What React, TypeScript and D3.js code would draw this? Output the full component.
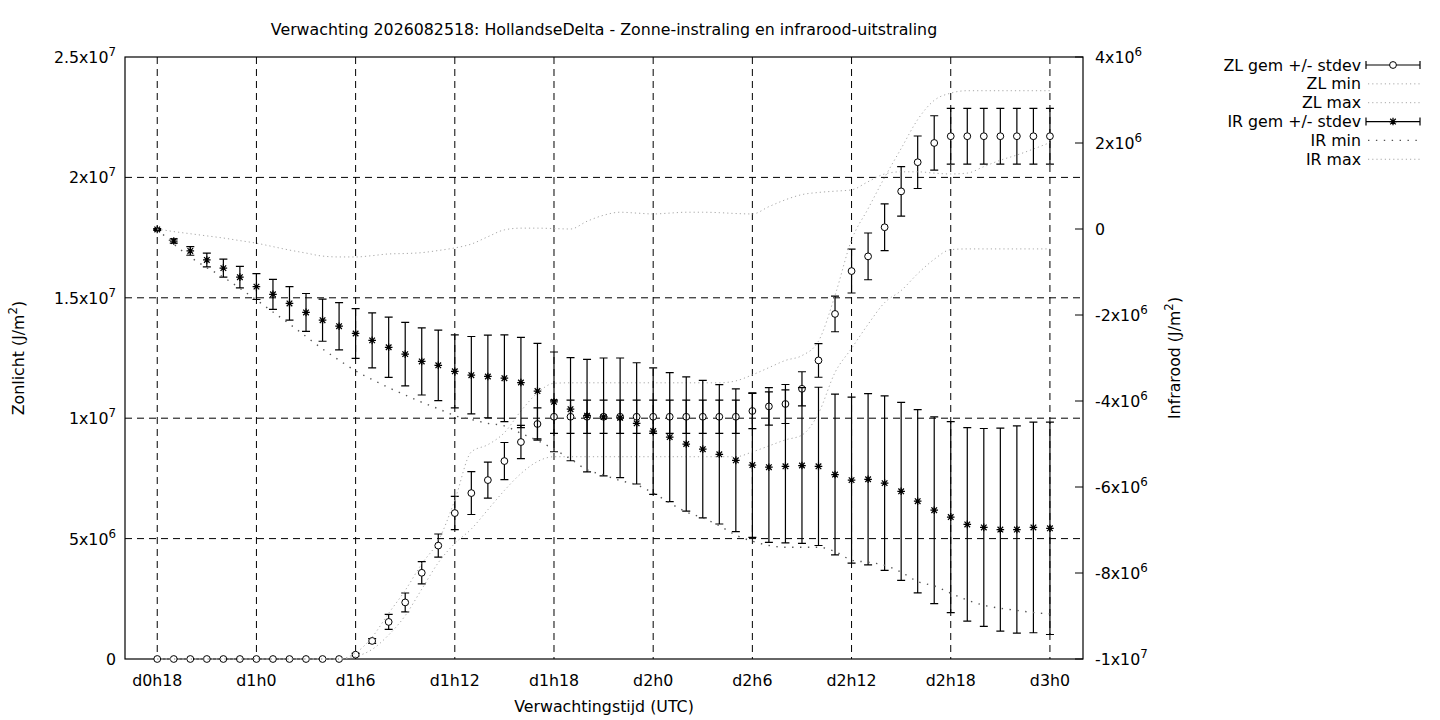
import { useEffect, useRef } from 'react'
import * as d3 from 'd3'

const TITLE = 'Verwachting 2026082518: HollandseDelta - Zonne-instraling en infrarood-uitstraling'

// forecast hour (counted from d0h0), one sample per hour
const HOURS = d3.range(18, 73)

const X_TICKS  = [18, 24, 30, 36, 42, 48, 54, 60, 66, 72]
const X_LABELS = ['d0h18', 'd1h0', 'd1h6', 'd1h12', 'd1h18', 'd2h0', 'd2h6', 'd2h12', 'd2h18', 'd3h0']

// left axis, units of 1e6 J/m2
const Y_TICKS  = [0, 5, 10, 15, 20, 25]
const Y_LABELS: [string, string][] = [['0', ''], ['5x10', '6'], ['1x10', '7'], ['1.5x10', '7'], ['2x10', '7'], ['2.5x10', '7']]
// right axis, units of 1e6 J/m2
const Y2_TICKS  = [-10, -8, -6, -4, -2, 0, 2, 4]
const Y2_LABELS: [string, string][] = [['-1x10', '7'], ['-8x10', '6'], ['-6x10', '6'], ['-4x10', '6'], ['-2x10', '6'], ['0', ''], ['2x10', '6'], ['4x10', '6']]

// Zonlicht (sunlight), 1e6 J/m2
const ZL_MEAN = [
  0, 0, 0, 0, 0, 0, 0, 0, 0, 0, 0, 0,
  0.18, 0.75, 1.54, 2.35, 3.58, 4.71, 6.06, 6.89, 7.43, 8.22, 9.01, 9.76,
  10.06, 10.06, 10.06, 10.06, 10.06, 10.06, 10.06, 10.06, 10.06, 10.06, 10.06, 10.06,
  10.30, 10.49, 10.59, 11.22, 12.40, 14.33, 16.11, 16.72, 17.93, 19.42, 20.63, 21.43,
  21.71, 21.71, 21.71, 21.71, 21.71, 21.71, 21.71,
]
const ZL_SD = [
  0, 0, 0, 0, 0, 0, 0, 0, 0, 0, 0, 0,
  0.05, 0.1, 0.31, 0.39, 0.46, 0.48, 0.69, 0.89, 0.75, 0.77, 0.69, 0.67,
  0.69, 0.69, 0.69, 0.69, 0.69, 0.69, 0.69, 0.69, 0.69, 0.69, 0.69, 0.69,
  0.73, 0.78, 0.81, 0.71, 0.70, 0.74, 0.91, 0.97, 0.97, 1.03, 1.09, 1.13,
  1.16, 1.16, 1.16, 1.16, 1.16, 1.16, 1.16,
]
const ZL_MIN = [
  0, 0, 0, 0, 0, 0, 0, 0, 0, 0, 0, 0,
  0.1, 0.4, 1.0, 1.8, 2.9, 4.0, 4.8, 5.4, 6.2, 7.0, 7.7, 8.2,
  8.4, 8.4, 8.4, 8.4, 8.4, 8.4, 8.4, 8.4, 8.4, 8.4, 8.4, 8.4,
  8.6, 8.85, 9.1, 9.3, 10.2, 11.9, 12.9, 13.9, 14.8, 15.3, 16.0, 16.6,
  17.0, 17.03, 17.03, 17.03, 17.03, 17.03, 17.03,
]
const ZL_MAX = [
  0, 0, 0, 0, 0, 0, 0, 0, 0, 0, 0, 0,
  0.25, 0.91, 1.9, 2.85, 3.95, 4.9, 6.6, 8.6, 8.9, 9.4, 10.3, 11.05,
  11.45, 11.47, 11.47, 11.47, 11.47, 11.47, 11.47, 11.47, 11.47, 11.47, 11.47, 11.55,
  11.8, 12.1, 12.4, 12.6, 13.2, 15.1, 17.4, 18.7, 20.0, 21.2, 22.4, 23.2,
  23.5, 23.6, 23.6, 23.6, 23.6, 23.6, 23.6,
]

// Infrarood (infrared), 1e6 J/m2
const IR_MEAN = [
  -0.01, -0.28, -0.51, -0.72, -0.91, -1.12, -1.34, -1.52, -1.73, -1.94, -2.12, -2.26,
  -2.43, -2.59, -2.75, -2.91, -3.08, -3.17, -3.31, -3.40, -3.43, -3.47, -3.57, -3.77,
  -4.02, -4.19, -4.34, -4.37, -4.39, -4.52, -4.70, -4.84, -5.00, -5.12, -5.24, -5.38,
  -5.49, -5.54, -5.52, -5.50, -5.52, -5.71, -5.84, -5.82, -5.91, -6.10, -6.33, -6.54,
  -6.70, -6.87, -6.94, -6.99, -6.99, -6.94, -6.96,
]
const IR_SD = [
  0.02, 0.05, 0.10, 0.16, 0.21, 0.25, 0.30, 0.35, 0.39, 0.44, 0.49, 0.55,
  0.58, 0.64, 0.70, 0.74, 0.78, 0.82, 0.85, 0.90, 0.96, 1.01, 1.05, 1.11,
  1.16, 1.20, 1.31, 1.37, 1.39, 1.41, 1.47, 1.50, 1.56, 1.60, 1.62, 1.66,
  1.68, 1.75, 1.78, 1.81, 1.84, 1.87, 1.93, 1.99, 2.03, 2.07, 2.13, 2.17,
  2.22, 2.25, 2.30, 2.36, 2.41, 2.45, 2.47,
]
const IR_MIN = [
  0, -0.35, -0.65, -0.9, -1.12, -1.38, -1.65, -1.93, -2.21, -2.5, -2.79, -3.05,
  -3.3, -3.5, -3.69, -3.86, -4.03, -4.18, -4.34, -4.43, -4.52, -4.58, -4.75, -4.92,
  -5.12, -5.35, -5.6, -5.72, -5.85, -5.95, -6.14, -6.37, -6.58, -6.72, -6.9, -7.12,
  -7.26, -7.36, -7.4, -7.4, -7.4, -7.5, -7.7, -7.75, -7.82, -7.98, -8.2, -8.3,
  -8.47, -8.63, -8.75, -8.82, -8.87, -8.92, -8.95,
]
const IR_MAX = [
  0, -0.06, -0.11, -0.16, -0.21, -0.27, -0.33, -0.41, -0.49, -0.56, -0.63, -0.65,
  -0.65, -0.62, -0.58, -0.57, -0.55, -0.5, -0.44, -0.35, -0.18, -0.02, 0.02, 0.02,
  0.01, 0.0, 0.18, 0.32, 0.39, 0.37, 0.35, 0.37, 0.39, 0.39, 0.38, 0.36,
  0.35, 0.52, 0.68, 0.8, 0.85, 0.88, 0.91, 1.1, 1.28, 1.33, 1.33, 1.3,
  1.28, 1.3, 1.45, 1.6, 1.72, 1.86, 2.01,
]

const LEGEND = ['ZL gem +/- stdev', 'ZL min', 'ZL max', 'IR gem +/- stdev', 'IR min', 'IR max']

const FONT = "'DejaVu Sans', sans-serif"
const FS = 15.8
const LIGHT_DOT = '#a8a8a8'
const DARK_DOT = '#555555'

type G = d3.Selection<SVGGElement, unknown, null, undefined>

function drawStar(g: G, cx: number, cy: number) {
  const s = 3.8, d = 2.8
  const p = `M${cx - s},${cy}H${cx + s}M${cx},${cy - s}V${cy + s}` +
    `M${cx - d},${cy - d}L${cx + d},${cy + d}M${cx - d},${cy + d}L${cx + d},${cy - d}`
  g.append('path').attr('d', p).attr('stroke', '#000').attr('stroke-width', 1.25).attr('fill', 'none')
}

function drawCircle(g: G, cx: number, cy: number) {
  g.append('circle').attr('cx', cx).attr('cy', cy).attr('r', 3.4)
    .attr('fill', '#fff').attr('stroke', '#000').attr('stroke-width', 1)
}

function errBar(g: G, x: number, y1: number, y2: number) {
  if (Math.abs(y2 - y1) < 0.5) return
  const c = 4
  g.append('path')
    .attr('d', `M${x},${y1}V${y2}M${x - c},${y1}H${x + c}M${x - c},${y2}H${x + c}`)
    .attr('stroke', '#000').attr('stroke-width', 1.2).attr('fill', 'none')
}

function supText(g: G, x: number, y: number, base: string, sup: string, anchor: string) {
  const t = g.append('text')
    .attr('x', x).attr('y', y)
    .attr('text-anchor', anchor)
    .attr('font-family', FONT).attr('font-size', FS).attr('fill', '#000')
  t.append('tspan').text(base)
  if (sup) t.append('tspan').attr('dy', -7).attr('font-size', FS * 0.75).text(sup)
  return t
}

export default function App() {
  const svgRef = useRef<SVGSVGElement>(null)

  useEffect(() => {
    const svgEl = svgRef.current
    if (!svgEl) return
    d3.select(svgEl).selectAll('*').remove()
    const svg = d3.select(svgEl).append('g') as unknown as G

    const L = 125, R = 1083, T = 57, B = 659

    const x  = d3.scaleLinear().domain([16.05, 74]).range([L, R])
    const y  = d3.scaleLinear().domain([0, 25]).range([B, T])
    const y2 = d3.scaleLinear().domain([-10, 4]).range([B, T])

    svg.append('rect').attr('x', 0).attr('y', 0).attr('width', 1440).attr('height', 720).attr('fill', '#fff')

    // grid
    X_TICKS.forEach(t => {
      svg.append('line')
        .attr('x1', x(t)).attr('x2', x(t)).attr('y1', T).attr('y2', B)
        .attr('stroke', '#000').attr('stroke-width', 1).attr('stroke-dasharray', '7 5')
    })
    Y_TICKS.slice(1, -1).forEach(t => {
      svg.append('line')
        .attr('x1', L).attr('x2', R).attr('y1', y(t)).attr('y2', y(t))
        .attr('stroke', '#000').attr('stroke-width', 1).attr('stroke-dasharray', '7 5')
    })

    // inward y2 ticks
    Y2_TICKS.forEach(t => {
      svg.append('line')
        .attr('x1', R - 8).attr('x2', R).attr('y1', y2(t)).attr('y2', y2(t))
        .attr('stroke', '#000').attr('stroke-width', 1)
    })

    // frame
    svg.append('rect')
      .attr('x', L).attr('y', T).attr('width', R - L).attr('height', B - T)
      .attr('fill', 'none').attr('stroke', '#000').attr('stroke-width', 1.2)

    // tick labels
    X_TICKS.forEach((t, i) => {
      svg.append('text')
        .attr('x', x(t)).attr('y', B + 27)
        .attr('text-anchor', 'middle')
        .attr('font-family', FONT).attr('font-size', FS)
        .text(X_LABELS[i])
    })
    Y_TICKS.forEach((t, i) => {
      supText(svg, 116, y(t) + 6, Y_LABELS[i][0], Y_LABELS[i][1], 'end')
    })
    Y2_TICKS.forEach((t, i) => {
      supText(svg, 1095, y2(t) + 6, Y2_LABELS[i][0], Y2_LABELS[i][1], 'start')
    })

    // titles
    svg.append('text')
      .attr('x', (L + R) / 2).attr('y', 35)
      .attr('text-anchor', 'middle')
      .attr('font-family', FONT).attr('font-size', FS)
      .text(TITLE)
    svg.append('text')
      .attr('x', (L + R) / 2).attr('y', 712)
      .attr('text-anchor', 'middle')
      .attr('font-family', FONT).attr('font-size', FS)
      .text('Verwachtingstijd (UTC)')

    const yLab = supText(svg, 0, 0, 'Zonlicht (J/m', '2', 'middle')
    yLab.append('tspan').attr('dy', 7).text(')')
    yLab.attr('transform', `translate(24,${(T + B) / 2}) rotate(-90)`)
    const y2Lab = supText(svg, 0, 0, 'Infrarood (J/m', '2', 'middle')
    y2Lab.append('tspan').attr('dy', 7).text(')')
    y2Lab.attr('transform', `translate(1180,${(T + B) / 2}) rotate(-90)`)

    const line = (sc: d3.ScaleLinear<number, number>) =>
      d3.line<number>().x((_, i) => x(HOURS[i])).y(v => sc(v)).curve(d3.curveMonotoneX)

    const zl = svg.append('g')
    HOURS.forEach((h, i) => errBar(zl, x(h), y(ZL_MEAN[i] - ZL_SD[i]), y(ZL_MEAN[i] + ZL_SD[i])))
    HOURS.forEach((h, i) => drawCircle(zl, x(h), y(ZL_MEAN[i])))

    svg.append('path').datum(ZL_MIN).attr('d', line(y))
      .attr('fill', 'none').attr('stroke', LIGHT_DOT).attr('stroke-width', 1).attr('stroke-dasharray', '1.2 3')
    svg.append('path').datum(ZL_MAX).attr('d', line(y))
      .attr('fill', 'none').attr('stroke', LIGHT_DOT).attr('stroke-width', 1).attr('stroke-dasharray', '1.2 3')

    const ir = svg.append('g')
    HOURS.forEach((h, i) => errBar(ir, x(h), y2(IR_MEAN[i] - IR_SD[i]), y2(IR_MEAN[i] + IR_SD[i])))
    HOURS.forEach((h, i) => drawStar(ir, x(h), y2(IR_MEAN[i])))

    svg.append('path').datum(IR_MIN).attr('d', line(y2))
      .attr('fill', 'none').attr('stroke', DARK_DOT).attr('stroke-width', 1.4).attr('stroke-dasharray', '1.4 6.5')
    svg.append('path').datum(IR_MAX).attr('d', line(y2))
      .attr('fill', 'none').attr('stroke', LIGHT_DOT).attr('stroke-width', 1).attr('stroke-dasharray', '1.2 3')

    // legend
    const lx0 = 1366, lx1 = 1420
    const lg = svg.append('g')
    LEGEND.forEach((label, i) => {
      const ly = 65 + i * 18.85
      lg.append('text')
        .attr('x', 1361).attr('y', ly + 5.5)
        .attr('text-anchor', 'end')
        .attr('font-family', FONT).attr('font-size', FS)
        .text(label)
      if (i === 0 || i === 3) {
        lg.append('path')
          .attr('d', `M${lx0},${ly}H${lx1}M${lx0},${ly - 4}V${ly + 4}M${lx1},${ly - 4}V${ly + 4}`)
          .attr('stroke', '#000').attr('stroke-width', 1.2).attr('fill', 'none')
        if (i === 0) drawCircle(lg, (lx0 + lx1) / 2, ly)
        else drawStar(lg, (lx0 + lx1) / 2, ly)
      } else {
        const dark = i === 4
        lg.append('line')
          .attr('x1', lx0 + 2).attr('x2', lx1).attr('y1', ly).attr('y2', ly)
          .attr('stroke', dark ? DARK_DOT : LIGHT_DOT)
          .attr('stroke-width', dark ? 1.4 : 1)
          .attr('stroke-dasharray', dark ? '1.4 6.5' : '1.2 3')
      }
    })
  }, [])

  return (
    <svg
      ref={svgRef}
      width={1440}
      height={720}
      style={{ position: 'absolute', left: 0, top: 0, display: 'block' }}
    />
  )
}
